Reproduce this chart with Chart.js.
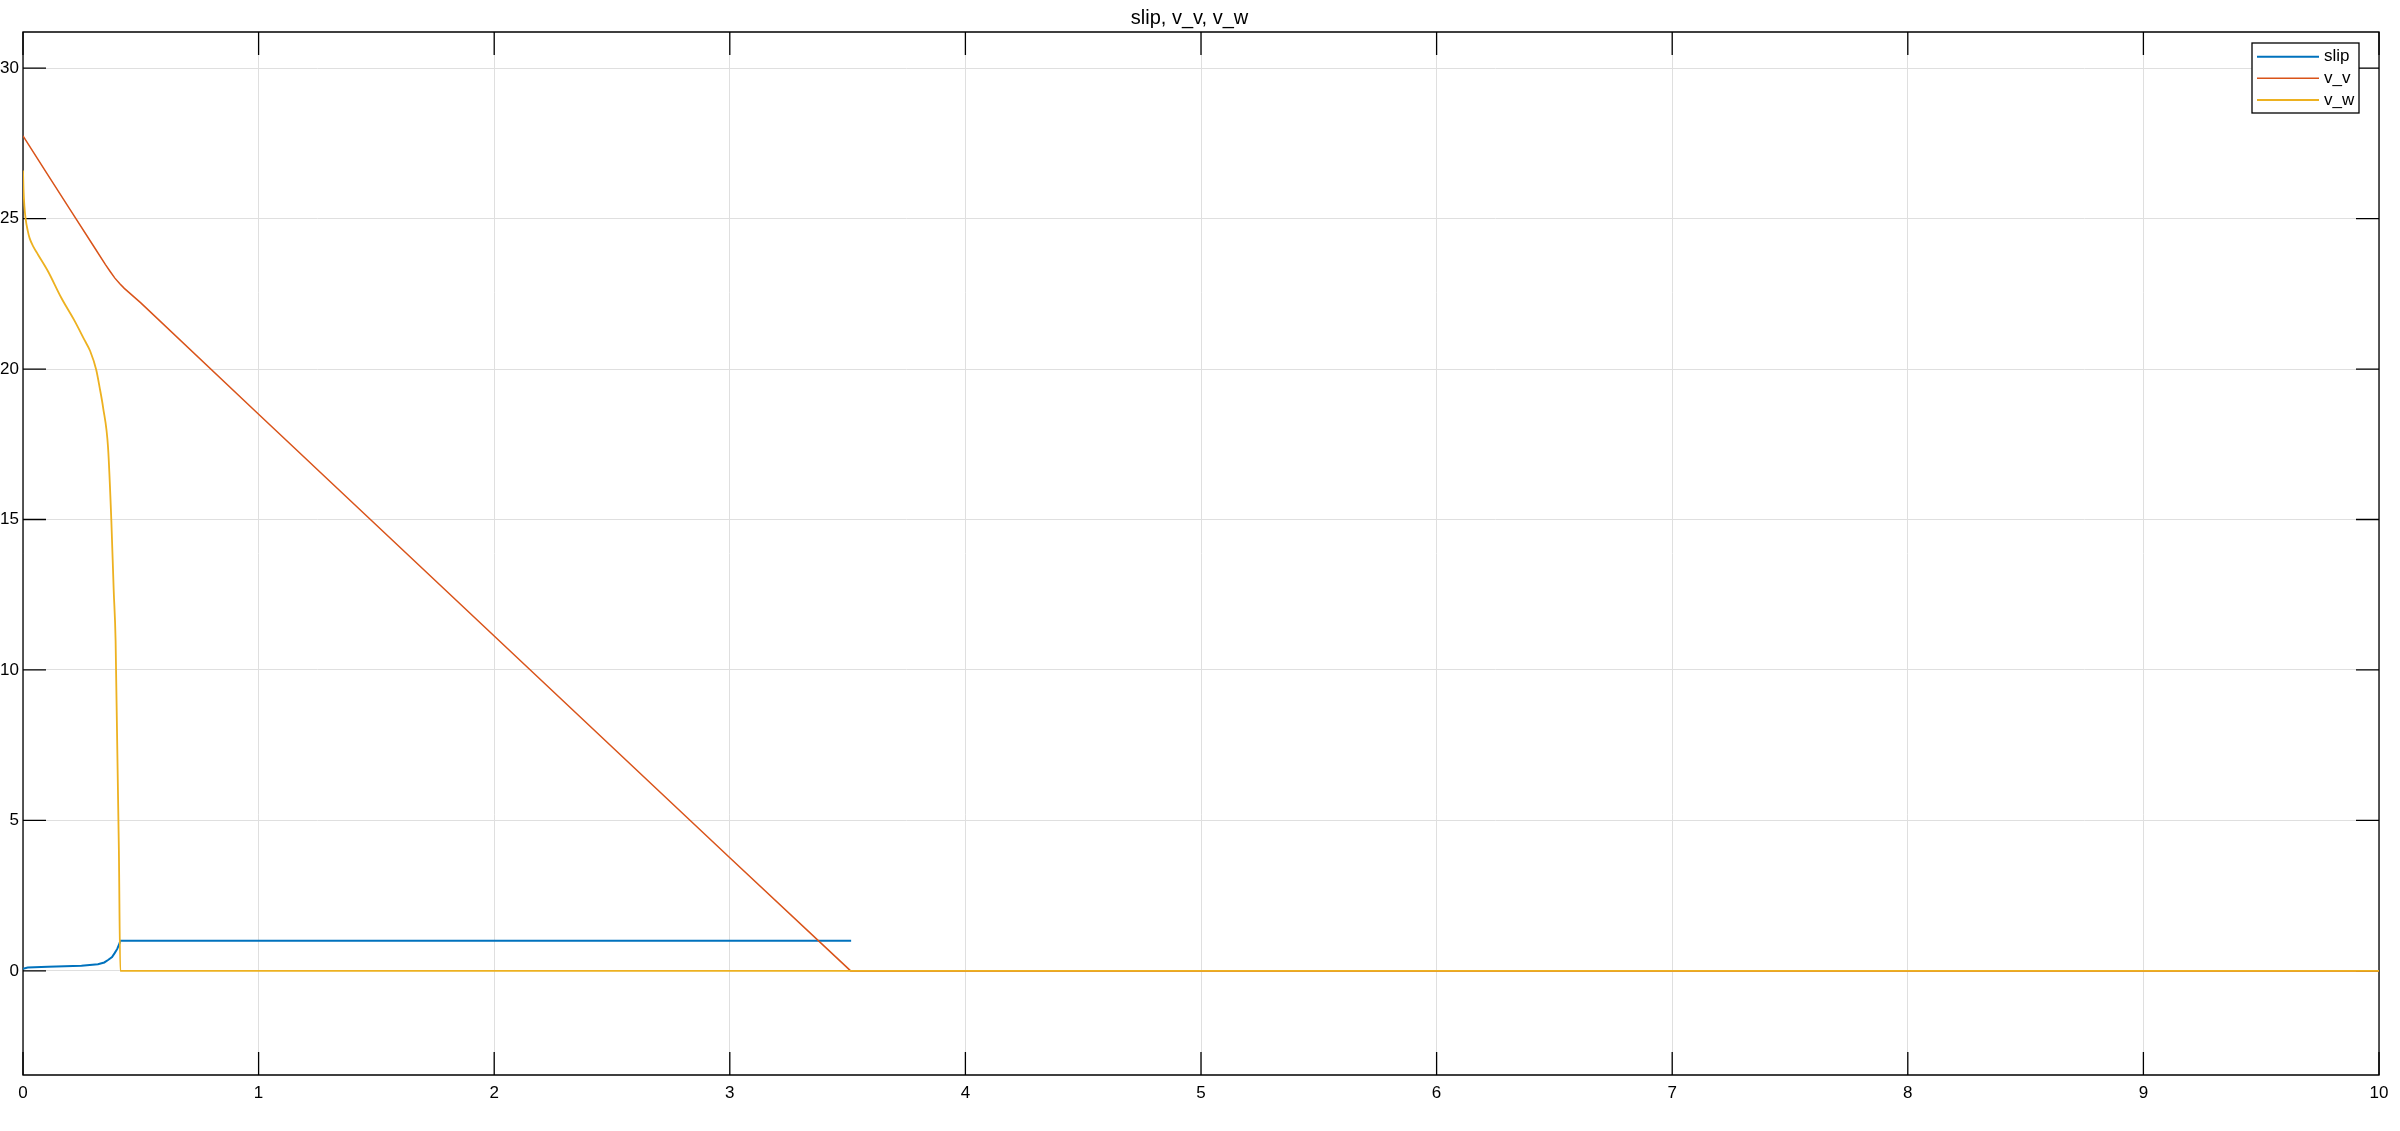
<!DOCTYPE html>
<html>
<head>
<meta charset="utf-8">
<script src="https://cdn.jsdelivr.net/npm/chart.js@4.4.1/dist/chart.umd.min.js"></script>
<style>
html,body{margin:0;padding:0;background:#fff;}
#wrap{width:2400px;height:1131px;position:relative;}
</style>
</head>
<body>
<div id="wrap"><canvas id="c"></canvas></div>
<script>
// ---- data ----
const titleText = "slip, v_v, v_w";
const seriesNames = ["slip", "v_v", "v_w"];
const seriesColors = ["#0072BD", "#D95319", "#EDB120"];

const slipT = [0, 0.02, 0.106, 0.248, 0.318, 0.345, 0.361, 0.378, 0.389, 0.400, 0.410, 0.413, 3.515];
const slipY = [0.07, 0.11, 0.14, 0.17, 0.22, 0.28, 0.36, 0.46, 0.59, 0.73, 0.92, 1.0, 1.0];

const vvT = [0, 0.1, 0.2, 0.3, 0.35, 0.37, 0.39, 0.41, 0.43, 0.5, 1, 2, 3, 3.513, 10];
const vvY = [27.75, 26.52, 25.3, 24.08, 23.47, 23.24, 23.02, 22.84, 22.68, 22.2, 18.5, 11.13, 3.76, 0, 0];

const vwT = [0, 0.002, 0.006, 0.011, 0.02, 0.028, 0.045, 0.064, 0.106, 0.163, 0.219, 0.262, 0.285, 0.311, 0.325, 0.340, 0.361, 0.375, 0.385, 0.393, 0.407, 0.413, 10];
const vwY = [26.6, 26.0, 25.4, 25.0, 24.6, 24.35, 24.05, 23.8, 23.25, 22.36, 21.6, 20.95, 20.6, 19.97, 19.4, 18.72, 17.39, 14.96, 12.64, 10.98, 4.0, 0, 0];

const xTicks = [0,1,2,3,4,5,6,7,8,9,10];
const yTicks = [0,5,10,15,20,25,30];
const xMin = 0, xMax = 10, yMin = -3.46, yMax = 31.2;

function pts(t, y){ return t.map((v,i)=>({x:v, y:y[i]})); }

const FONT = "'Liberation Sans', Arial, Helvetica, sans-serif";
const TICKLEN = 23;

const boxPlugin = {
  id: 'boxPlugin',
  beforeDatasetsDraw(chart){
    const ctx = chart.ctx, a = chart.chartArea;
    const xs = chart.scales.x, ys = chart.scales.y;
    ctx.save();
    ctx.strokeStyle = '#000';
    ctx.lineWidth = 1.3;
    ctx.beginPath();
    ctx.rect(a.left, a.top, a.right - a.left, a.bottom - a.top);
    ctx.stroke();
    ctx.beginPath();
    xTicks.forEach(v=>{
      const px = xs.getPixelForValue(v);
      ctx.moveTo(px, a.bottom); ctx.lineTo(px, a.bottom - TICKLEN);
      ctx.moveTo(px, a.top); ctx.lineTo(px, a.top + TICKLEN);
    });
    yTicks.forEach(v=>{
      const py = ys.getPixelForValue(v);
      ctx.moveTo(a.left, py); ctx.lineTo(a.left + TICKLEN, py);
      ctx.moveTo(a.right, py); ctx.lineTo(a.right - TICKLEN, py);
    });
    ctx.stroke();
    ctx.restore();
  },
  afterDraw(chart){
    const ctx = chart.ctx;
    ctx.save();
    const lx = 2252, ly = 43, lw = 107, lh = 70;
    ctx.fillStyle = '#fff';
    ctx.fillRect(lx, ly, lw, lh);
    ctx.lineWidth = 1.3;
    ctx.strokeStyle = '#000';
    ctx.strokeRect(lx, ly, lw, lh);
    const rows = [56.7, 78.3, 100];
    ctx.font = "17px " + FONT;
    ctx.textBaseline = 'middle';
    ctx.textAlign = 'left';
    chart.data.datasets.forEach((ds, i)=>{
      ctx.strokeStyle = ds.borderColor;
      ctx.lineWidth = ds.borderWidth;
      ctx.beginPath();
      ctx.moveTo(2257, rows[i]); ctx.lineTo(2319, rows[i]);
      ctx.stroke();
      ctx.fillStyle = '#000';
      ctx.fillText(ds.label, 2324, rows[i]);
    });
    ctx.restore();
  }
};

new Chart(document.getElementById('c'), {
  type: 'line',
  data: {
    datasets: [
      { label: seriesNames[0], data: pts(slipT, slipY), borderColor: seriesColors[0], borderWidth: 2, order: 2 },
      { label: seriesNames[1], data: pts(vvT, vvY), borderColor: seriesColors[1], borderWidth: 1.5, order: 1 },
      { label: seriesNames[2], data: pts(vwT, vwY), borderColor: seriesColors[2], borderWidth: 1.8, order: 0, cubicInterpolationMode: 'monotone' }
    ]
  },
  options: {
    responsive: true,
    maintainAspectRatio: false,
    devicePixelRatio: 1,
    animation: false,
    elements: { point: { radius: 0 }, line: { tension: 0, fill: false } },
    layout: { padding: { left: 0, right: 21, top: 0, bottom: 0 } },
    plugins: {
      legend: { display: false },
      tooltip: { enabled: false },
      title: {
        display: true, text: titleText, color: '#000',
        font: { family: FONT, size: 20, weight: 'normal', lineHeight: 1.2 },
        padding: { top: 6, bottom: 2 }
      }
    },
    scales: {
      x: {
        type: 'linear', min: xMin, max: xMax,
        afterBuildTicks(s){ s.ticks = xTicks.map(v=>({value:v})); },
        afterFit(s){ s.height = 56; },
        grid: { color: '#DFDFDF', lineWidth: 1, drawTicks: false },
        border: { display: false },
        ticks: { color: '#000', padding: 8, maxRotation: 0, font: { family: FONT, size: 17 } }
      },
      y: {
        type: 'linear', min: yMin, max: yMax,
        afterBuildTicks(s){ s.ticks = yTicks.map(v=>({value:v})); },
        afterFit(s){ s.width = 23; },
        grid: { color: '#DFDFDF', lineWidth: 1, drawTicks: false },
        border: { display: false },
        ticks: { color: '#000', padding: 4, font: { family: FONT, size: 17 } }
      }
    }
  },
  plugins: [boxPlugin]
});
</script>
</body>
</html>
